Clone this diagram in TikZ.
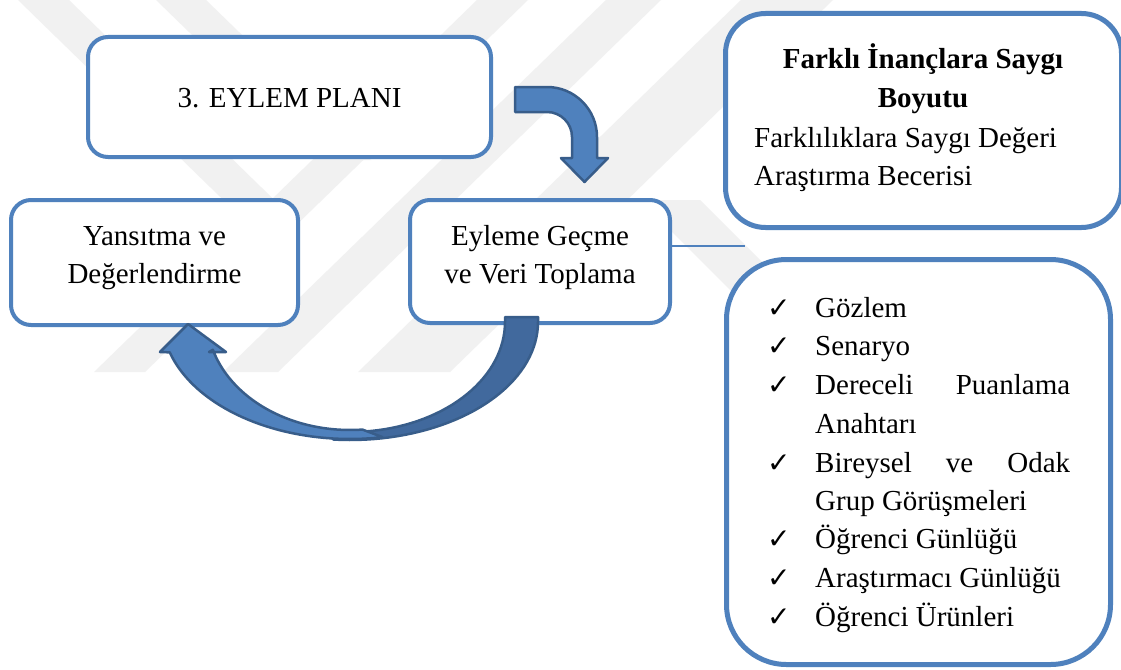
\documentclass[tikz,border=0pt]{standalone}
\usepackage{fontspec}
\setmainfont{Liberation Serif}
\newfontfamily\symfont{DejaVu Sans}
\definecolor{boxblue}{HTML}{4F81BD}
\definecolor{arrowblue}{HTML}{4F81BD}
\definecolor{arrowdark}{HTML}{41699D}
\definecolor{arrowedge}{HTML}{385D8A}
\definecolor{wmgray}{HTML}{F1F1F1}
\begin{document}
\begin{tikzpicture}[x=1pt,y=-1pt,
  boxframe/.style={draw=boxblue, line width=4pt, fill=white, rounded corners=20pt, inner sep=0pt},
  txt/.style={font=\fontsize{29}{38.7}\selectfont, inner sep=0pt},
  boldtxt/.style={font=\fontsize{29}{38.7}\selectfont\bfseries, inner sep=0pt},
  tick/.style={font=\symfont\fontsize{28}{30}\selectfont, inner sep=0pt},
  shapefront/.style={fill=arrowblue, draw=arrowedge, line width=2.5pt, line join=round},
  shapeback/.style={fill=arrowdark, draw=arrowedge, line width=2.5pt, line join=round},
  link/.style={draw=boxblue, line width=2pt},
  band/.style={fill=wmgray, draw=none}]
\useasboundingbox (0,0) rectangle (1121,669);
\fill[white] (0,0) rectangle (1121,669);

% faint background emblem stripes
\fill[band] (477,0) -- (528,0) -- (145,372) -- (94,372) -- cycle;
\fill[band] (606,0) -- (661,0) -- (278,372) -- (223,372) -- cycle;
\fill[band] (741,0) -- (833,0) -- (450,372) -- (358,372) -- cycle;
\fill[band] (18,0) -- (69,0) -- (300,225) -- (249,225) -- cycle;
\fill[band] (156,0) -- (206,0) -- (371,160) -- (321,160) -- cycle;
\fill[band] (640,200) -- (700,200) -- (800,300) -- (740,300) -- cycle;

% boxes
\node[boxframe, minimum width=403pt, minimum height=120pt] (plan) at (289.5,97) {};
\node[txt, anchor=base] (planlabel) at (289.5,107) {3. EYLEM PLANI};

\node[boxframe, minimum width=287pt, minimum height=125pt] (reflect) at (154.5,262.5) {};
\node[txt, anchor=base] (reflectA) at (154.5,245) {Yansıtma ve};
\node[txt, anchor=base] (reflectB) at (154.5,283) {Değerlendirme};

\node[boxframe, minimum width=260pt, minimum height=123pt] (act) at (540,261.5) {};
\node[txt, anchor=base] (actA) at (540,245) {Eyleme Geçme};
\node[txt, anchor=base] (actB) at (540,283) {ve Veri Toplama};

\node[boxframe, line width=5pt, rounded corners=40pt, minimum width=396pt, minimum height=214pt] (dim) at (923.5,120.5) {};
\node[boldtxt, anchor=base] (dimA) at (923,68) {Farklı İnançlara Saygı};
\node[boldtxt, anchor=base] (dimB) at (923,107) {Boyutu};
\node[txt, anchor=base west] (dimC) at (754,147) {Farklılıklara Saygı Değeri};
\node[txt, anchor=base west] (dimD) at (754,185) {Araştırma Becerisi};

\node[boxframe, line width=5pt, rounded corners=60pt, minimum width=384pt, minimum height=405pt] (methods) at (918.5,462) {};

% connector from the action box
\coordinate (linkend) at (745,246);
\draw[link] (linkend -| act.east) -- (linkend);

% checklist
\foreach \y/\n in {317/1,355/2,394/3,472/4,548/5,587/6,626/7}
  \node[tick, anchor=base west] (tick\n) at (767,\y) {✓};
\node[txt, anchor=base west] (itemA) at (815,317) {Gözlem};
\node[txt, anchor=base west] (itemB) at (815,355) {Senaryo};
\node[txt, anchor=base west] (itemC) at (815,394) {\hbox to 255pt{Dereceli\hfill Puanlama}};
\node[txt, anchor=base west] (itemCc) at (815,433) {Anahtarı};
\node[txt, anchor=base west] (itemD) at (815,472) {\hbox to 255pt{Bireysel\hfill ve\hfill Odak}};
\node[txt, anchor=base west] (itemDd) at (815,510) {Grup Görüşmeleri};
\node[txt, anchor=base west] (itemE) at (815,548) {Öğrenci Günlüğü};
\node[txt, anchor=base west] (itemF) at (815,587) {Araştırmacı Günlüğü};
\node[txt, anchor=base west] (itemG) at (815,626) {Öğrenci Ürünleri};

% bent arrow from the plan down to the action box
\draw[shapefront] (515,87) -- (547,87) .. controls (574.6,87) and (597,109.4) .. (597,137)
  -- (597,158) -- (608,158) -- (584.5,182) -- (561,158) -- (572,158) -- (572,137)
  .. controls (572,123.2) and (560.8,112) .. (547,112) -- (515,112) -- cycle;

% curved arrow from the action box back to reflection
\draw[shapeback] (505,317) -- (538,317) -- (538,322)
  -- plot[domain=0:95, samples=40] ({350+188*cos(\x)},{322+118*sin(\x)})
  -- plot[domain=100:0, samples=40] ({350+155*cos(\x)},{322+110*sin(\x)}) -- (505,317) -- cycle;
\draw[shapefront] plot[domain=80:163.5, samples=40] ({350+188*cos(\x)},{318+121*sin(\x)})
  -- (160,352) -- (188,324) -- (226,352) -- (209,352)
  -- plot[domain=163.5:85, samples=40] ({350+143*cos(\x)},{318+112*sin(\x)}) -- cycle;
\end{tikzpicture}
\end{document}
